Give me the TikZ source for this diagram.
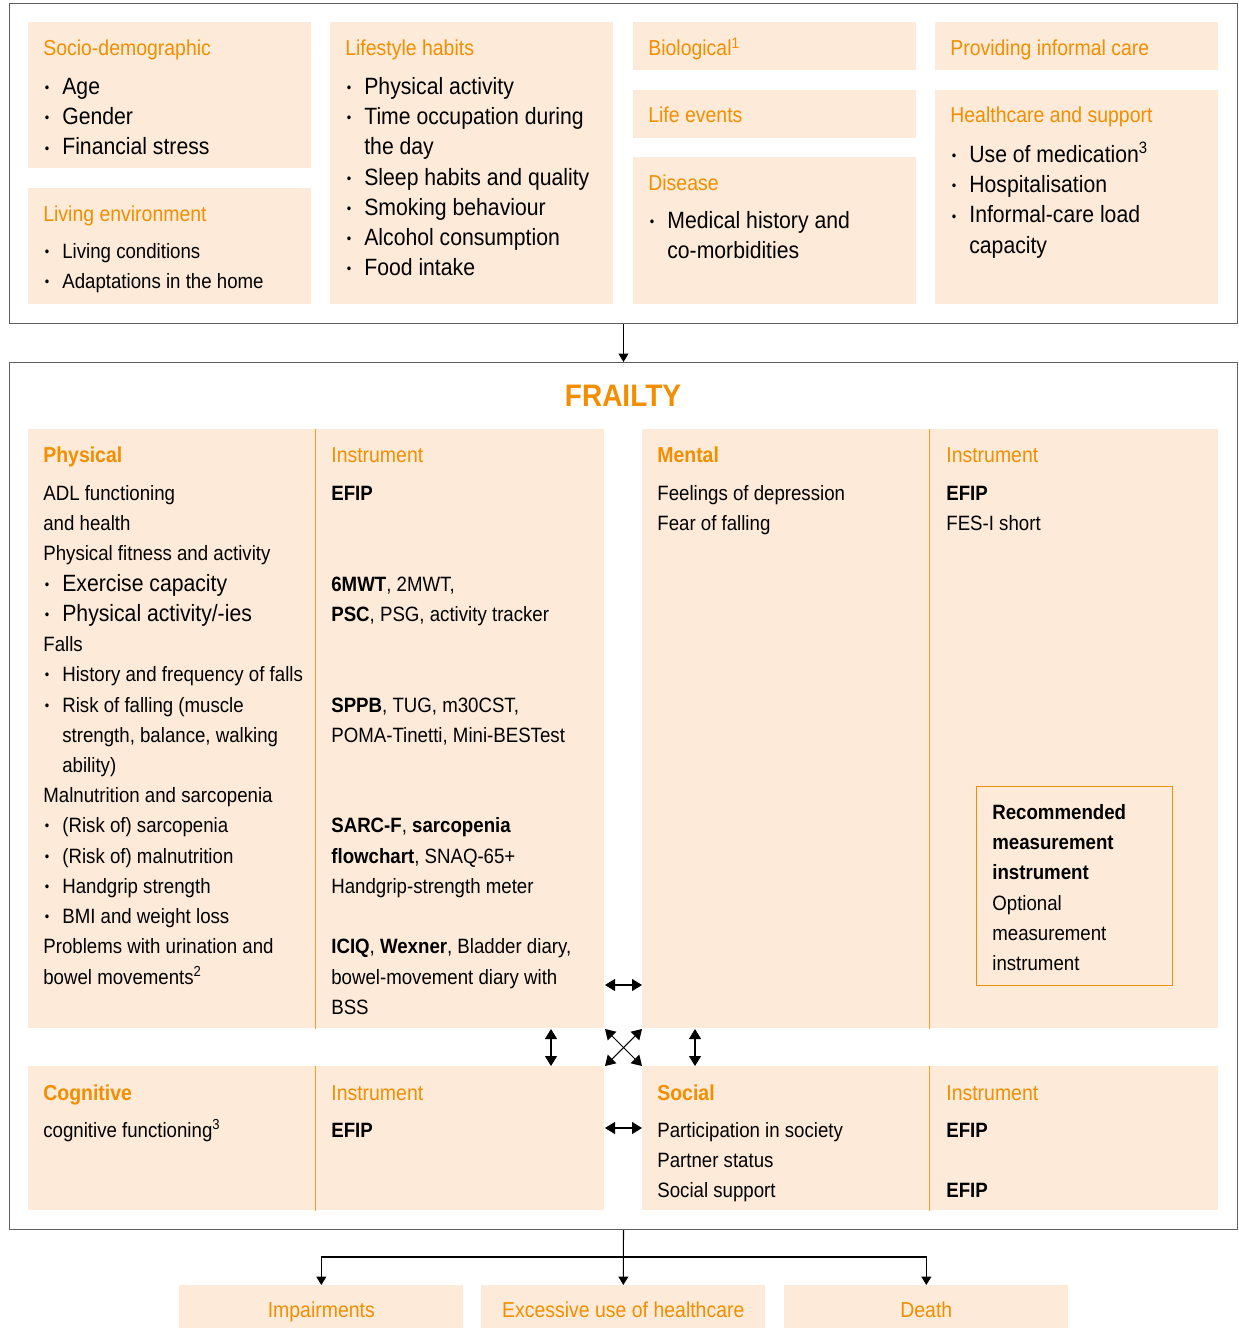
\documentclass[tikz,border=0pt]{standalone}
\usepackage{fontspec}
\setmainfont{Liberation Sans}[FakeStretch=0.9]
\usetikzlibrary{arrows.meta, positioning}

\definecolor{peach}{RGB}{253,234,216}
\definecolor{frorange}{RGB}{242,142,0}
\definecolor{framegray}{RGB}{95,95,95}

\newcommand{\bigtxt}{\fontsize{13.4}{17.2}\selectfont}
\newcommand{\smtxt}{\fontsize{11.8}{17.2}\selectfont}
\newcommand{\hdtxt}{\fontsize{12.3}{17.2}\selectfont}
\newcommand{\bi}{\makebox[0.38cm][l]{\hspace{0.03cm}\raisebox{1.1pt}{\fontsize{8}{8}\selectfont\textbullet}}}
\newcommand{\ind}{\hspace*{0.38cm}}

\begin{document}
\begin{tikzpicture}[
    x=0.02cm, y=-0.02cm,
    % Styles for boxes and texts
    frame/.style={draw=framegray, line width=0.7pt, anchor=north west, inner sep=0pt},
    box/.style={fill=peach, anchor=north west, inner sep=0pt, minimum width=5.66cm},
    panel/.style={fill=peach, anchor=north west, inner sep=0pt, minimum width=11.52cm},
    divider/.style={draw=frorange!85, line width=0.6pt},
    head/.style={anchor=base west, inner sep=0pt, text=frorange, font=\hdtxt},
    bhead/.style={head, font=\hdtxt\bfseries},
    list/.style={anchor=north west, inner sep=0pt, align=left},
    outcome/.style={box, minimum width=5.68cm, minimum height=1.04cm, text=frorange, font=\hdtxt},
    arr/.style={-{Triangle[length=0.17cm, width=0.2cm]}, line width=0.6pt},
    dbl/.style={{Triangle[length=0.2cm, width=0.24cm]}-{Triangle[length=0.2cm, width=0.24cm]}, line width=0.6pt}
]
    \useasboundingbox (0,0) rectangle (1238,1328);

    % --- Determinants ---
    \node[frame, minimum width=24.56cm, minimum height=6.4cm] (causes) at (9,3) {};

    \node[box, minimum height=2.92cm] (socio) at (28,22) {};
    \node[box, minimum height=2.32cm] (living) at (28,188) {};
    \node[box, minimum height=5.64cm] (life) at (330,22) {};
    \node[box, minimum height=0.96cm] (bio) at (633,22) {};
    \node[box, minimum height=0.96cm] (events) at (633,90) {};
    \node[box, minimum height=2.94cm] (disease) at (633,157) {};
    \node[box, minimum height=0.96cm] (care) at (935,22) {};
    \node[box, minimum height=4.28cm] (health) at (935,90) {};

    \node[head] (socioh) at (43,56) {Socio-demographic};
    \node[list, font=\bigtxt] (socioi) at (43,73) {\strut\bi Age\\ \bi Gender\\ \bi Financial stress};

    \node[head] (livingh) at (43,221) {Living environment};
    \node[list, font=\smtxt] (livingi) at (43,237) {\strut\bi Living conditions\\ \bi Adaptations in the home};

    \node[head] (lifeh) at (345,56) {Lifestyle habits};
    \node[list, font=\bigtxt] (lifei) at (345,73) {\strut\bi Physical activity\\
        \bi Time occupation during\\ \ind the day\\
        \bi Sleep habits and quality\\
        \bi Smoking behaviour\\
        \bi Alcohol consumption\\
        \bi Food intake};

    \node[head] (bioh) at (648,56) {Biological\textsuperscript{1}};
    \node[head] (eventsh) at (648,123) {Life events};
    \node[head] (diseaseh) at (648,190) {Disease};
    \node[list, font=\bigtxt] (diseasei) at (648,207) {\strut\bi Medical history and\\ \ind co-morbidities};

    \node[head] (careh) at (950,56) {Providing informal care};
    \node[head] (healthh) at (950,123) {Healthcare and support};
    \node[list, font=\bigtxt] (healthi) at (950,141) {\strut\bi Use of medication\textsuperscript{3}\\
        \bi Hospitalisation\\
        \bi Informal-care load\\ \ind capacity};

    % --- Frailty ---
    \node[frame, minimum width=24.56cm, minimum height=17.34cm] (frailty) at (9,362) {};
    \node[anchor=base, inner sep=0pt, text=frorange, font=\fontsize{17.7}{20}\selectfont\bfseries] (title) at (623,406) {FRAILTY};

    \node[panel, minimum height=11.98cm] (phys) at (28,429) {};
    \node[panel, minimum height=11.98cm] (mental) at (642,429) {};
    \node[panel, minimum height=2.88cm] (cogn) at (28,1066) {};
    \node[panel, minimum height=2.88cm] (social) at (642,1066) {};

    \draw[divider] ([xshift=5.76cm]phys.north west) -- ([xshift=5.76cm]phys.south west);
    \draw[divider] ([xshift=5.76cm]mental.north west) -- ([xshift=5.76cm]mental.south west);
    \draw[divider] ([xshift=5.76cm]cogn.north west) -- ([xshift=5.76cm]cogn.south west);
    \draw[divider] ([xshift=5.76cm]social.north west) -- ([xshift=5.76cm]social.south west);

    % Physical
    \node[bhead] (physh) at (43,462) {Physical};
    \node[list, font=\smtxt] (physi) at (43,479) {\strut ADL functioning\\
        and health\\
        Physical fitness and activity\\
        {\bigtxt\bi Exercise capacity}\\
        {\bigtxt\bi Physical activity/-ies}\\
        Falls\\
        \bi History and frequency of falls\\
        \bi Risk of falling (muscle\\
        \ind strength, balance, walking\\
        \ind ability)\\
        Malnutrition and sarcopenia\\
        \bi (Risk of) sarcopenia\\
        \bi (Risk of) malnutrition\\
        \bi Handgrip strength\\
        \bi BMI and weight loss\\
        Problems with urination and\\
        bowel movements\textsuperscript{2}};
    \node[head] (physinh) at (331,462) {Instrument};
    \node[list, font=\smtxt] (physin) at (331,479) {\strut\textbf{EFIP}\\ \strut\\ \strut\\
        \textbf{6MWT}, 2MWT,\\
        \textbf{PSC}, PSG, activity tracker\\ \strut\\ \strut\\
        \textbf{SPPB}, TUG, m30CST,\\
        POMA-Tinetti, Mini-BESTest\\ \strut\\ \strut\\
        \textbf{SARC-F}, \textbf{sarcopenia}\\
        \textbf{flowchart}, SNAQ-65+\\
        Handgrip-strength meter\\ \strut\\
        \textbf{ICIQ}, \textbf{Wexner}, Bladder diary,\\
        bowel-movement diary with\\
        BSS};

    % Mental
    \node[bhead] (mentalh) at (657,462) {Mental};
    \node[list, font=\smtxt] (mentali) at (657,479) {\strut Feelings of depression\\ Fear of falling};
    \node[head] (mentalinh) at (946,462) {Instrument};
    \node[list, font=\smtxt] (mentalin) at (946,479) {\strut\textbf{EFIP}\\ FES-I short};

    % Legend
    \node[anchor=north west, inner sep=0pt, draw=frorange, line width=0.6pt, fill=peach,
          minimum width=3.92cm, minimum height=3.98cm] (legend) at (976,786) {};
    \node[list, font=\smtxt] (legendi) at (992,798) {\strut\textbf{Recommended}\\
        \textbf{measurement}\\ \textbf{instrument}\\
        Optional\\ measurement\\ instrument};

    % Cognitive
    \node[bhead] (cognh) at (43,1100) {Cognitive};
    \node[list, font=\smtxt] (cogni) at (43,1116) {\strut cognitive functioning\textsuperscript{3}};
    \node[head] (cogninh) at (331,1100) {Instrument};
    \node[list, font=\smtxt] (cognin) at (331,1116) {\strut\textbf{EFIP}};

    % Social
    \node[bhead] (socialh) at (657,1100) {Social};
    \node[list, font=\smtxt] (sociali) at (657,1116) {\strut Participation in society\\ Partner status\\ Social support};
    \node[head] (socialinh) at (946,1100) {Instrument};
    \node[list, font=\smtxt] (socialin) at (946,1116) {\strut\textbf{EFIP}\\ \strut\\ \textbf{EFIP}};

    % --- Links between domains ---
    \coordinate (pm1) at (605,985);  \coordinate (pm2) at (642,985);
    \coordinate (pc1) at (551,1029); \coordinate (pc2) at (551,1066);
    \coordinate (ms1) at (695,1029); \coordinate (ms2) at (695,1066);
    \coordinate (cs1) at (605,1128); \coordinate (cs2) at (642,1128);
    \coordinate (x1) at (605,1029);  \coordinate (x2) at (642,1066);
    \coordinate (x3) at (642,1029);  \coordinate (x4) at (605,1066);

    \draw[dbl] (pm1) -- (pm2);
    \draw[dbl] (pc1) -- (pc2);
    \draw[dbl] (ms1) -- (ms2);
    \draw[dbl] (cs1) -- (cs2);
    \draw[dbl] (x1) -- (x2);
    \draw[dbl] (x3) -- (x4);

    % --- Outcomes ---
    \node[outcome] (impair) at (179,1285) {\strut Impairments};
    \node[outcome] (excess) at (481,1285) {\strut Excessive use of healthcare};
    \node[outcome] (death) at (784,1285) {\strut Death};

    \coordinate (split) at (623,1257);
    \draw[arr] (causes.south) -- (frailty.north);
    \draw[arr] (frailty.south) -- (excess.north);
    \draw[arr] (split) -| (impair.north);
    \draw[arr] (split) -| (death.north);

\end{tikzpicture}
\end{document}
